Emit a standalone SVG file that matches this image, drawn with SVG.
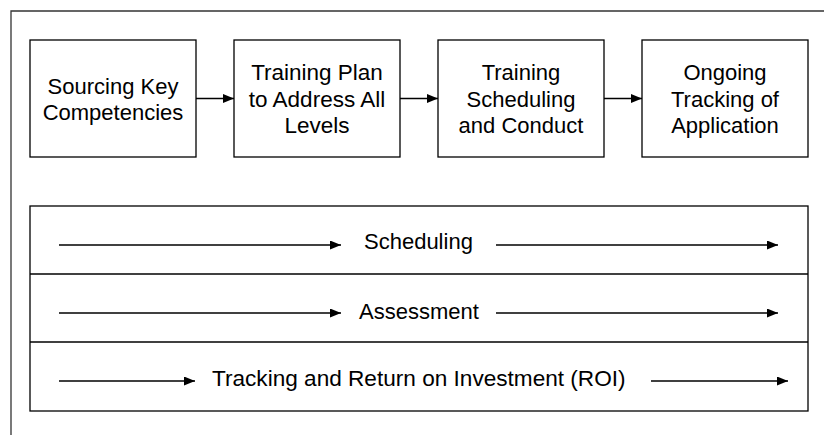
<svg xmlns="http://www.w3.org/2000/svg" width="824" height="435" viewBox="0 0 824 435">
<defs>
<marker id="ah" markerUnits="userSpaceOnUse" markerWidth="12" markerHeight="10" refX="11" refY="4.5" orient="auto">
<path d="M0,0 L11,4.5 L0,9 Z" fill="#000"/>
</marker>
<style>
.box{fill:#fff;stroke:#000;stroke-width:1.3}
.t{font-family:"Liberation Sans",Arial,sans-serif;font-size:22px;fill:#000}
.c{text-anchor:middle}
.ln{stroke:#000;stroke-width:1.3;fill:none;marker-end:url(#ah)}
.frame{stroke:#333;stroke-width:1.3;fill:none}
</style>
</defs>
<rect width="824" height="435" fill="#fff"/>
<path class="frame" d="M11,435 L11,11 L824,11"/>
<g id="n1"><rect class="box" x="30" y="40" width="166" height="117"/>
<text class="t c" x="113" y="93.5">Sourcing Key</text><text class="t c" x="113" y="119.5">Competencies</text></g>
<g id="n2"><rect class="box" x="234" y="40" width="166" height="117"/>
<text class="t c" x="317" y="80" style="font-size:22.5px">Training Plan</text><text class="t c" x="317" y="106.5" style="font-size:22.5px">to Address All</text><text class="t c" x="317" y="133" style="font-size:22.5px">Levels</text></g>
<g id="n3"><rect class="box" x="438" y="40" width="166" height="117"/>
<text class="t c" x="521" y="80">Training</text><text class="t c" x="521" y="106.5">Scheduling</text><text class="t c" x="521" y="133">and Conduct</text></g>
<g id="n4"><rect class="box" x="642" y="40" width="166" height="117"/>
<text class="t c" x="725" y="80">Ongoing</text><text class="t c" x="725" y="106.5">Tracking of</text><text class="t c" x="725" y="133">Application</text></g>
<g id="bands">
<rect class="box" x="30" y="206" width="778" height="205"/>
<line x1="30" y1="274" x2="808" y2="274" stroke="#000" stroke-width="1.3"/>
<line x1="30" y1="342" x2="808" y2="342" stroke="#000" stroke-width="1.3"/>
<text class="t" x="364" y="248.5">Scheduling</text>
<text class="t" x="359" y="319">Assessment</text>
<text class="t" x="212" y="385.5" style="font-size:22.6px">Tracking and Return on Investment (ROI)</text>
</g>
<g id="connectors">
<line class="ln" x1="196" y1="98.5" x2="234" y2="98.5"/>
<line class="ln" x1="400" y1="98.5" x2="438" y2="98.5"/>
<line class="ln" x1="604" y1="98.5" x2="642" y2="98.5"/>
<line class="ln" x1="59" y1="245" x2="341" y2="245"/>
<line class="ln" x1="496" y1="245" x2="778" y2="245"/>
<line class="ln" x1="59" y1="313" x2="341" y2="313"/>
<line class="ln" x1="496" y1="313" x2="778" y2="313"/>
<line class="ln" x1="59" y1="381" x2="195" y2="381"/>
<line class="ln" x1="651" y1="381" x2="788" y2="381"/>
</g>
</svg>
